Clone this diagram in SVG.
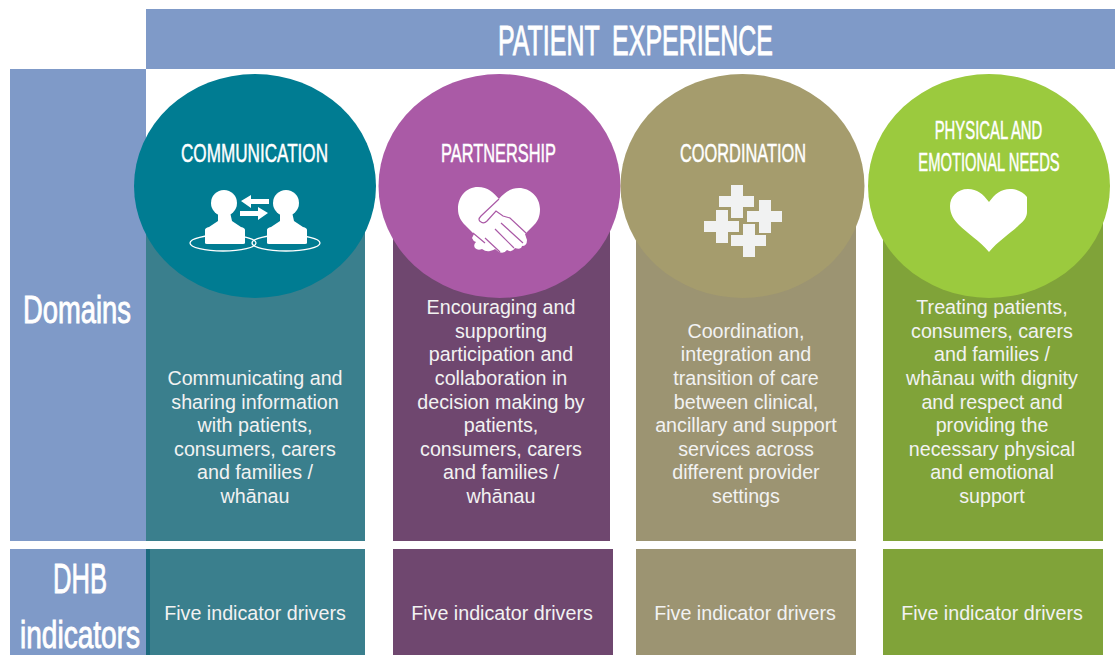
<svg xmlns="http://www.w3.org/2000/svg" width="1115" height="655" viewBox="0 0 1115 655">
<style>
.c{font-family:"Liberation Sans",Arial,sans-serif;fill:#fff;text-anchor:middle}
.b{font-size:19.7px;fill:#f2f2f2}
.h{font-size:26px;font-family:"Liberation Sans",Arial,sans-serif;fill:#fff;stroke:#fff;stroke-width:.5px;text-anchor:middle}
.l{stroke-width:.9px}
.w{fill:#fff}
.r{fill:none;stroke:#fff;stroke-width:1.3}
</style>
<defs>
<path id="cross" d="M12 0h12v11h11v11h-11v11h-12v-11h-12v-11h12z"/>
<g id="person"><circle cx="0" cy="0" r="13"/><path d="M-6 9h12l2 9 9 6q4 1 4 3v13q0 1-2 1h-36q-2 0-2-1v-13q0-2 4-3l9-6z"/></g>
</defs>
<rect width="1115" height="655" fill="#fff"/>
<g id="header"><rect x="146" y="9" width="969" height="60" fill="#7f9ac8"/>
<text class="h l" x="635.500" y="55" style="font-size:42px;word-spacing:10px" textLength="275" lengthAdjust="spacingAndGlyphs">PATIENT EXPERIENCE</text></g>
<g id="domains"><rect x="10" y="69" width="136" height="472" fill="#7f9ac8"/>
<text class="h l" x="77" y="323" style="font-size:38px" textLength="108" lengthAdjust="spacingAndGlyphs">Domains</text></g>
<g id="dhb"><rect x="10" y="549" width="136" height="106" fill="#7f9ac8"/>
<text class="h l" x="80" y="593" style="font-size:42px" textLength="54" lengthAdjust="spacingAndGlyphs">DHB</text>
<text class="h l" x="80" y="648" style="font-size:38px" textLength="120" lengthAdjust="spacingAndGlyphs">indicators</text></g>

<g id="communication">
<rect x="146" y="186" width="219" height="355" fill="#3a7f8d"/>
<rect x="146" y="549" width="219" height="106" fill="#3a7f8d"/><rect x="146" y="549" width="4" height="106" fill="#1d6a7e"/>
<ellipse cx="255" cy="186" rx="121" ry="112" fill="#007c92"/>
<text class="h" x="254.500" y="162" textLength="147" lengthAdjust="spacingAndGlyphs">COMMUNICATION</text>
<ellipse class="r" cx="223" cy="243" rx="33" ry="8"/>
<ellipse class="r" cx="286" cy="243" rx="34" ry="8"/>
<g class="w">
<use href="#person" x="224" y="203"/><use href="#person" x="286" y="203"/>
<path d="M241 201l10-6v4h18v5h-18v4z"/><path d="M268 213l-10-6v4h-18v5h18v4z"/>
</g>
<g class="c b"><text x="255" y="385">Communicating and</text><text x="255" y="408.500">sharing information</text><text x="255" y="432">with patients,</text><text x="255" y="456">consumers, carers</text><text x="255" y="479">and families /</text><text x="255" y="503">whānau</text>
<text x="255" y="620">Five indicator drivers</text></g>
</g>

<g id="partnership">
<rect x="393" y="186" width="217" height="355" fill="#6f476f"/>
<rect x="393" y="549" width="220" height="106" fill="#6f476f"/>
<ellipse cx="499.500" cy="186" rx="121" ry="112" fill="#aa5aa6"/>
<text class="h" x="498.500" y="162" textLength="115" lengthAdjust="spacingAndGlyphs">PARTNERSHIP</text>
<path class="w" d="M499 199C493 192 488 187 478 187C466 187 458 197 458 209C458 216 461 221 465 225L474 234L472 238Q473 241 476 242Q473 245 475 248Q478 251 482 249Q486 252 490 251Q494 250 495 249L499 252Q504 254 507 250Q512 253 515 248Q521 250 522 246Q527 246 527 240L525 234L534 225C538 221 540 216 540 209C540 197 530 188 519 188C510 188 504 193 499 199Z"/>
<path d="M499 199L481 216Q477 220 481 222Q484 224 487 221L496 211L503 216L510 218L526 233M501 223L523 243M495 229L514 248M485 238L500 252M473 233L485 243" fill="none" stroke="#aa5aa6" stroke-width="1.200"/>
<g class="c b"><text x="501" y="314">Encouraging and</text><text x="501" y="338">supporting</text><text x="501" y="361">participation and</text><text x="501" y="385">collaboration in</text><text x="501" y="408.500">decision making by</text><text x="501" y="432">patients,</text><text x="501" y="456">consumers, carers</text><text x="501" y="479">and families /</text><text x="501" y="503">whānau</text>
<text x="502" y="620">Five indicator drivers</text></g>
</g>

<g id="coordination">
<rect x="636" y="186" width="220" height="355" fill="#9c9472"/>
<rect x="636" y="549" width="220" height="106" fill="#9c9472"/>
<ellipse cx="742.500" cy="186" rx="122" ry="112" fill="#a59c6d"/>
<text class="h" x="743" y="162" textLength="126" lengthAdjust="spacingAndGlyphs">COORDINATION</text>
<g fill="#f1f2f2">
<use href="#cross" x="719" y="185"/><use href="#cross" x="747" y="200"/><use href="#cross" x="704" y="210"/><use href="#cross" x="731" y="224"/>
</g>
<g class="c b"><text x="746" y="338">Coordination,</text><text x="746" y="361">integration and</text><text x="746" y="385">transition of care</text><text x="746" y="408.500">between clinical,</text><text x="746" y="432">ancillary and support</text><text x="746" y="456">services across</text><text x="746" y="479">different provider</text><text x="746" y="503">settings</text>
<text x="745" y="620">Five indicator drivers</text></g>
</g>

<g id="physical-emotional-needs">
<rect x="883" y="186" width="220" height="355" fill="#80a339"/>
<rect x="883" y="549" width="220" height="106" fill="#80a339"/>
<ellipse cx="989" cy="186" rx="121" ry="112" fill="#9bca3e"/>
<text class="h" transform="translate(988.500 139) scale(.572 1)">PHYSICAL AND</text>
<text class="h" transform="translate(989 171) scale(.568 1)">EMOTIONAL NEEDS</text>
<path class="w" d="M989 202c-6-8-12-13-21-13-11 0-18 8-18 17 0 8 4 14 9 19 8 8 21 16 30 27 9-11 22-19 30-27 5-4 8-8 8-13v-15c-4-5-10-8-17-8-9 0-15 5-21 13z"/>
<g class="c b"><text x="992" y="314">Treating patients,</text><text x="992" y="338">consumers, carers</text><text x="992" y="361">and families /</text><text x="992" y="385">whānau with dignity</text><text x="992" y="408.500">and respect and</text><text x="992" y="432">providing the</text><text x="992" y="456">necessary physical</text><text x="992" y="479">and emotional</text><text x="992" y="503">support</text>
<text x="992" y="620">Five indicator drivers</text></g>
</g>
</svg>
